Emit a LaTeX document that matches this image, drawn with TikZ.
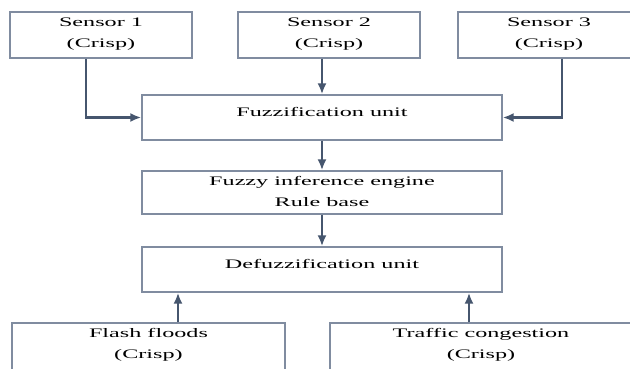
\documentclass[tikz,border=0pt]{standalone}
\usepackage{fontspec}
\setmainfont{Liberation Serif}[FakeStretch=1.86]
\usepackage{xcolor}
\usetikzlibrary{arrows.meta,calc}
\definecolor{boxline}{RGB}{128,140,160}
\definecolor{arrline}{RGB}{70,86,110}

\begin{document}
\begin{tikzpicture}[x=1pt, y=-1pt]
  \tikzstyle{unit}=[rectangle, draw=boxline, line width=1.4pt, align=center, inner sep=0pt,
    font=\fontsize{13}{21}\selectfont]
  \tikzstyle{crisp}=[unit, minimum width=182pt, minimum height=46pt, text depth=4pt]
  \tikzstyle{stage}=[unit, minimum width=360pt, minimum height=45pt]
  \tikzstyle{arr}=[line width=2.4pt, draw=arrline, -{Latex[length=11pt,width=9pt]}]

  % Lienzo
  \useasboundingbox (0,0) rectangle (630,369);
  \clip (0,0) rectangle (630,369);
  \fill[white] (0,0) rectangle (630,369);

  % Sensores
  \node[crisp] (s1) at (101,35) {Sensor 1\\(Crisp)};
  \node[crisp] (s2) at (329,35) {Sensor 2\\(Crisp)};
  \node[crisp] (s3) at (549,35) {Sensor 3\\(Crisp)};

  % Etapas difusas
  \node[stage, text depth=11pt] (fuzz) at (322,117.5) {Fuzzification unit};
  \node[stage, minimum height=43pt, text depth=3pt] (fie) at (322,192.5) {Fuzzy inference engine\\Rule base};
  \node[stage, text depth=12pt] (defuzz) at (322,269.5) {Defuzzification unit};

  % Salidas
  \node[crisp, minimum width=273pt, minimum height=48pt, text depth=8pt] (flash) at (148.5,347) {Flash floods\\(Crisp)};
  \node[crisp, minimum width=302pt, minimum height=48pt, text depth=8pt] (traffic) at (481,347) {Traffic congestion\\(Crisp)};

  % Entradas al fuzzificador
  \draw[arr] ([xshift=-15pt]s1.south) |- (fuzz.west);
  \draw[arr] (s2.south -| fuzz.north) -- (fuzz.north);
  \draw[arr] ([xshift=13pt]s3.south) |- (fuzz.east);

  % Cadena principal
  \draw[arr] (fuzz) -- (fie);
  \draw[arr] (fie) -- (defuzz);

  % Salidas hacia el defuzzificador
  \coordinate (ff) at ([xshift=29.5pt]flash.north);
  \coordinate (tc) at ([xshift=-12pt]traffic.north);
  \draw[arr] (ff) -- (ff |- defuzz.south);
  \draw[arr] (tc) -- (tc |- defuzz.south);
\end{tikzpicture}
\end{document}
